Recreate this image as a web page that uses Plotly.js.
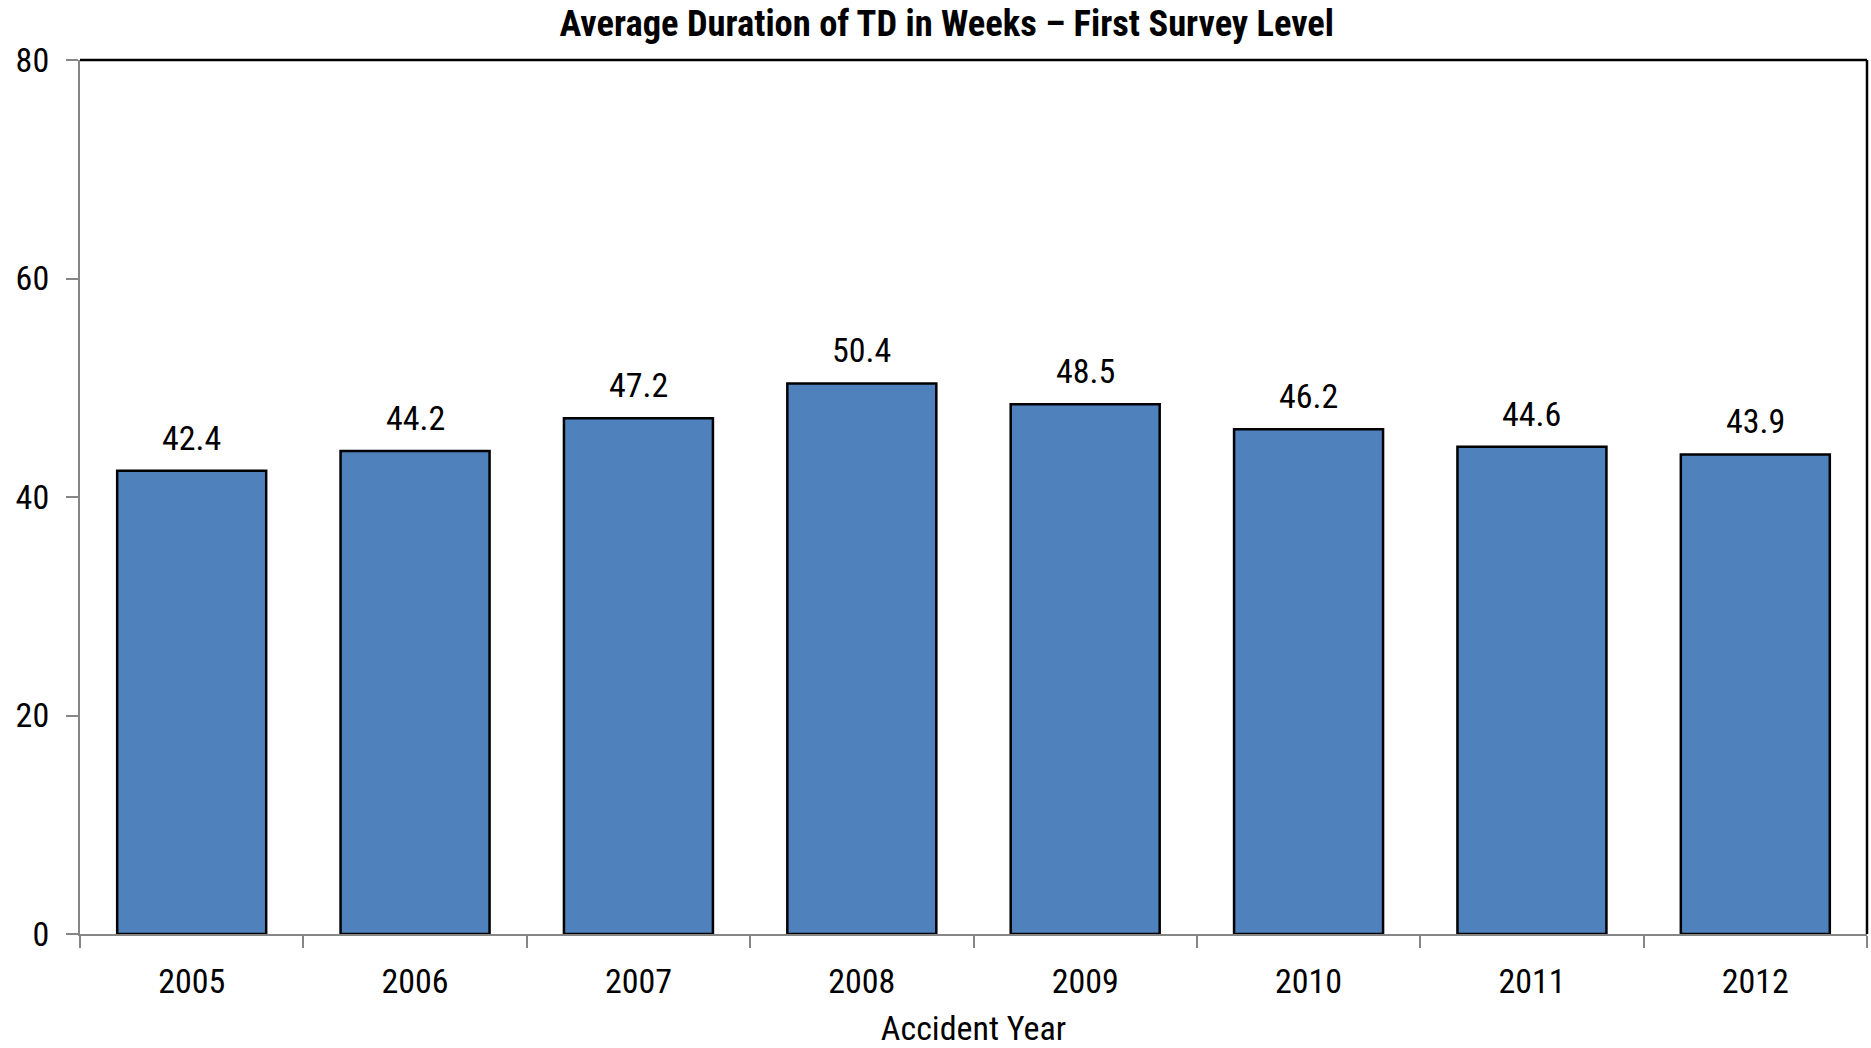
<!DOCTYPE html>
<html>
<head>
<meta charset="utf-8">
<script src="https://cdn.plot.ly/plotly-3.0.1.min.js"></script>
<style>
html,body{margin:0;padding:0;background:#fff;}
#chart{width:1871px;height:1048px;}
</style>
</head>
<body>
<div id="chart"></div>
<script>
const years = ["2005","2006","2007","2008","2009","2010","2011","2012"];
const durations = [42.4, 44.2, 47.2, 50.4, 48.5, 46.2, 44.6, 43.9];
const yTicks = [0, 20, 40, 60, 80];
const titleText = "Average Duration of TD in Weeks – First Survey Level";
const xTitle = "Accident Year";

const FONT = '"Liberation Sans Narrow", "Arial Narrow", "Roboto Condensed", "DejaVu Sans Condensed", sans-serif';

const trace = {
  type: 'bar',
  x: years,
  y: durations,
  marker: {color: '#4F81BD', line: {color: '#000000', width: 2.5}},
  hoverinfo: 'x+y'
};

const annotations = years.map((yr, i) => ({
  x: i, y: durations[i], xref: 'x', yref: 'y',
  text: durations[i].toFixed(1),
  showarrow: false, yanchor: 'bottom', yshift: 11,
  font: {family: FONT, size: 34, color: '#000'}
}));

const layout = {
  width: 1871, height: 1048,
  margin: {l: 80, r: 4, t: 60, b: 114},
  paper_bgcolor: '#fff', plot_bgcolor: '#fff',
  font: {family: FONT, color: '#000', size: 34},
  title: {
    text: '<b>' + titleText + '</b>',
    font: {family: FONT, size: 36.5, color: '#000'},
    x: 0.506, xanchor: 'center', y: 1 - 23/1048, yanchor: 'middle', yref: 'container'
  },
  bargap: 0.333,
  showlegend: false,
  xaxis: {
    type: 'category',
    range: [-0.5, years.length - 0.5], autorange: false,
    showline: true, linecolor: '#868686', linewidth: 2,
    ticks: 'outside', tickson: 'boundaries', ticklen: 12, tickwidth: 2, tickcolor: '#868686',
    ticklabelstandoff: 16,
    showgrid: false, zeroline: false,
    tickfont: {family: FONT, size: 34, color: '#000'},
    title: {text: xTitle, font: {family: FONT, size: 34, color: '#000'}, standoff: 17}
  },
  yaxis: {
    range: [0, 80], autorange: false, tickvals: yTicks, ticktext: yTicks.map(String),
    showline: true, linecolor: '#868686', linewidth: 2,
    ticks: 'outside', ticklen: 12, tickwidth: 2, tickcolor: '#868686',
    ticklabelstandoff: 10,
    showgrid: false, zeroline: false,
    tickfont: {family: FONT, size: 34, color: '#000'}
  },
  shapes: [
    {type: 'line', xref: 'paper', yref: 'paper', x0: 0, x1: 1, y0: 1, y1: 1, line: {color: '#000', width: 2.5}},
    {type: 'line', xref: 'paper', yref: 'paper', x0: 1, x1: 1, y0: 0, y1: 1, line: {color: '#000', width: 2.5}}
  ],
  annotations: annotations
};

Plotly.newPlot('chart', [trace], layout, {displayModeBar: false, staticPlot: true});
</script>
</body>
</html>
